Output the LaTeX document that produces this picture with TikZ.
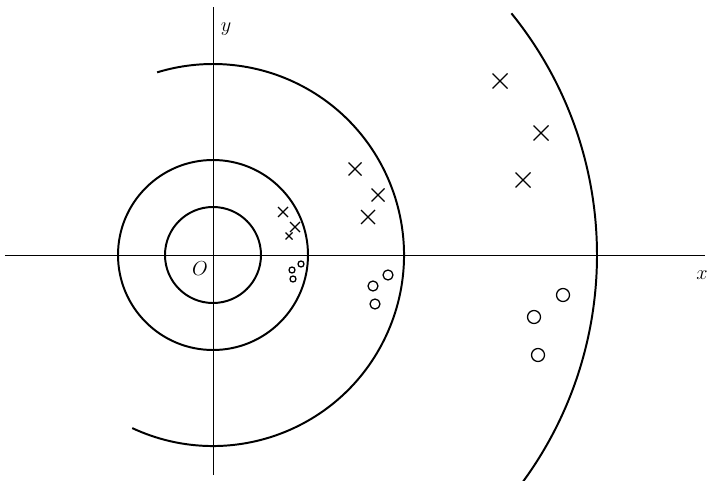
\documentclass[tikz,border=0pt]{standalone}
\usetikzlibrary{shapes.misc}
\tikzset{
  Axis/.style={line width=0.6pt},
  Ring/.style={line width=1.4pt},
  Pole/.style={draw, cross out, line width=0.8pt, inner sep=0pt, outer sep=0pt},
  Zero/.style={draw, circle, line width=0.9pt, inner sep=0pt, outer sep=0pt},
  Lbl/.style={font=\Large}
}
\begin{document}
\begin{tikzpicture}[x=0.025cm, y=0.025cm]
  \useasboundingbox (-213,-225) rectangle (496,255);
  \clip (-213,-225) rectangle (496,255);

  % axes
  \coordinate (xl) at (-208,0);
  \coordinate (xr) at (492,0);
  \coordinate (yb) at (0,-220);
  \coordinate (yt) at (0,248);
  \draw[Axis] (xl) -- (xr);
  \draw[Axis] (yb) -- (yt);
  \node[Lbl] (xlab) at (489,-20) {$x$};
  \node[Lbl] (ylab) at (13,226) {$y$};
  \node[Lbl] (olab) at (-13,-14) {$O$};

  % circles and arcs
  \coordinate (O) at (0,0);
  \draw[Ring] (O) circle (48);
  \draw[Ring] (O) circle (95);
  \draw[Ring] (O) ++(-115:191) arc (-115:107:191);
  \draw[Ring] (O) ++(-40:384) arc (-40:39:384);

  % poles
  \foreach \px/\py/\s [count=\i] in {70/43/10, 82/28/10, 76/19/7,
      142/86/13, 165/60/13, 155/38/14,
      287/174/15, 328/122/15, 310/75/15}
    \node[Pole, minimum size=\s*0.025cm] (p\i) at (\px,\py) {};

  % zeros
  \foreach \px/\py/\r [count=\i] in {88/-9/6, 79/-15/6, 80/-24/6,
      175/-20/10, 160/-31/10, 162/-49/10,
      350/-40/13, 321/-62/13, 325/-100/13}
    \node[Zero, minimum size=\r*0.025cm] (z\i) at (\px,\py) {};
\end{tikzpicture}
\end{document}
